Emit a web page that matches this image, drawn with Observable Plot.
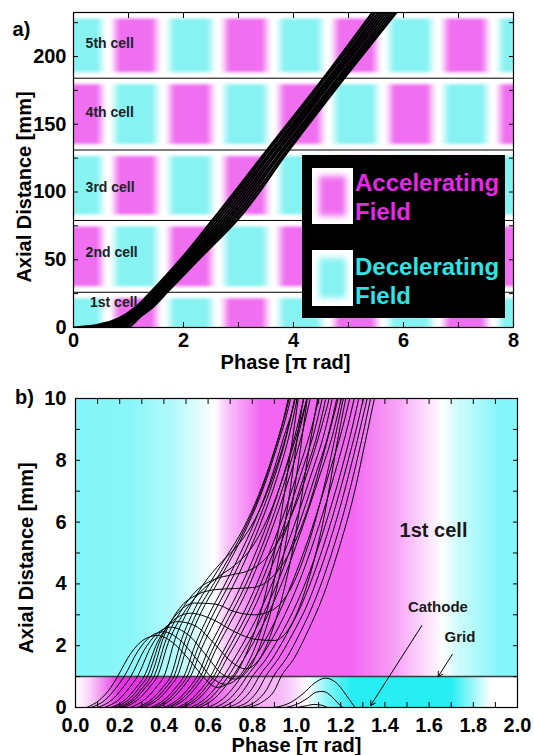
<!DOCTYPE html>
<html><head><meta charset="utf-8">
<script src="https://cdn.jsdelivr.net/npm/d3@7"></script>
<script src="https://cdn.jsdelivr.net/npm/@observablehq/plot@0.6"></script>
<style>
body{margin:0;background:#fff;font-family:"Liberation Sans",Arial,Helvetica,sans-serif;}
#wrap{position:relative;width:534px;height:755px;overflow:hidden;}
#wrap svg{display:block;}
#pa,#pb{position:absolute;left:0;}
#pa{top:0;} #pb{top:372px;}
#legend{position:absolute;left:302px;top:155px;width:203px;height:163px;background:#000;}
.sw{position:absolute;left:10px;width:41px;height:56px;background:#fff;overflow:hidden;}
.sw div{position:absolute;left:7px;top:8px;right:7px;bottom:8px;filter:blur(3px);}
.lt{position:absolute;left:53px;font-weight:bold;font-size:24px;line-height:29px;white-space:nowrap;}
</style></head><body>
<div id="wrap"><div id="pa"></div><div id="pb"></div>
<div id="legend">
 <div class="sw" style="top:13px"><div style="background:#f06ef0"></div></div>
 <div class="lt" style="top:13px;color:#e628e6">Accelerating<br>Field</div>
 <div class="sw" style="top:95px"><div style="background:#86f2f2"></div></div>
 <div class="lt" style="top:97px;color:#2ee3e3">Decelerating<br>Field</div>
</div>
</div>
<script>
const FONT = "'Liberation Sans', Arial, Helvetica, sans-serif";

// ---------- panel a data ----------
const aXTicks = [0,1,2,3,4,5,6,7,8];
const aXLabels = [0,2,4,6,8];
const aYTicks = [0,25,50,75,100,125,150,175,200,225];
const aYLabels = [0,50,100,150,200];
const aYMax = 232.5;
const cellBounds = [0, 26, 79, 131, 184, 232.5];
const cellLabels = ["1st cell","2nd cell","3rd cell","4th cell","5th cell"];
const cellLabelX = [0.3, 0.22, 0.22, 0.22, 0.22];
const cellLabelY = [18.5, 55, 103, 158.7, 209.6];
const cellFirstField = [-1, 1, -1, 1, -1]; // -1 decelerating, +1 accelerating near phase 0.13
const blockCentre0 = 0.13;
// trajectory bundle: phase at shared axial positions
const aZ = [0, 1, 3, 7.4, 15, 26, 50, 79, 130, 187, 234];
const aLine1  = [0.00, 0.30, 0.55, 0.85, 1.13, 1.40, 1.94, 2.52, 3.50, 4.60, 5.46];
const aLine2  = [0.11, 0.38, 0.61, 0.89, 1.16, 1.43, 1.98, 2.57, 3.54, 4.64, 5.51];
const aLine3  = [0.22, 0.46, 0.67, 0.93, 1.20, 1.47, 2.02, 2.62, 3.59, 4.69, 5.56];
const aLine4  = [0.33, 0.54, 0.73, 0.97, 1.23, 1.50, 2.06, 2.67, 3.63, 4.73, 5.61];
const aLine5  = [0.44, 0.62, 0.79, 1.01, 1.27, 1.54, 2.10, 2.72, 3.68, 4.77, 5.66];
const aLine6  = [0.55, 0.70, 0.85, 1.05, 1.30, 1.57, 2.13, 2.77, 3.72, 4.81, 5.71];
const aLine7  = [0.66, 0.79, 0.91, 1.09, 1.34, 1.60, 2.17, 2.82, 3.77, 4.86, 5.76];
const aLine8  = [0.77, 0.87, 0.97, 1.13, 1.37, 1.64, 2.20, 2.87, 3.81, 4.90, 5.81];
const aLine9  = [0.88, 0.95, 1.03, 1.16, 1.41, 1.67, 2.24, 2.92, 3.86, 4.94, 5.86];
const aLine10 = [0.98, 1.03, 1.09, 1.20, 1.44, 1.70, 2.27, 2.97, 3.90, 4.98, 5.90];
const aLines = [aLine1,aLine2,aLine3,aLine4,aLine5,aLine6,aLine7,aLine8,aLine9,aLine10];

// ---------- panel b data ----------
const bXTicks = [0,0.1,0.2,0.3,0.4,0.5,0.6,0.7,0.8,0.9,1.0,1.1,1.2,1.3,1.4,1.5,1.6,1.7,1.8,1.9,2.0];
const bXLabels = [0,0.2,0.4,0.6,0.8,1.0,1.2,1.4,1.6,1.8,2.0];
const bYTicks = [0,1,2,3,4,5,6,7,8,9,10];
const bYLabels = [0,2,4,6,8,10];
const gridZ = 1;
// field colour stops (phase, signed strength: +1 accelerating, -1 decelerating)
const upperStops = [[0,-1],[0.25,-0.95],[0.45,-0.6],[0.63,0],[0.68,0.35],[0.84,1],[1.25,1],[1.45,0.6],[1.66,0],[1.72,-0.35],[1.92,-1],[2,-1]];
const lowerStops = [[0,0],[0.06,0.2],[0.2,1],[0.55,1],[0.7,0.55],[0.95,0.3],[1.05,0],[1.15,-0.6],[1.25,-1],[1.7,-1],[1.88,0],[2,0]];
// electron trajectories [phase, axial mm]
const bTraj = [
 [[0.05,0],[0.11,0.25],[0.16,0.65],[0.19,1.0],[0.25,1.75],[0.31,2.2],[0.37,2.33],[0.44,2.1],[0.52,1.5],[0.59,0.9],[0.64,0.65],[0.70,0.85],[0.77,1.7],[0.85,3.4],[0.92,5.8],[0.98,8.6],[1.02,10.6]],
 [[0.07,0],[0.135,0.25],[0.185,0.65],[0.22,1.0],[0.28,1.8],[0.34,2.3],[0.40,2.45],[0.47,2.2],[0.55,1.55],[0.62,0.95],[0.68,0.75],[0.74,1.0],[0.81,1.9],[0.89,3.8],[0.96,6.5],[1.02,9.5],[1.05,10.6]],
 [[0.10,0],[0.165,0.25],[0.215,0.65],[0.25,1.0],[0.31,1.85],[0.37,2.4],[0.43,2.6],[0.51,2.35],[0.59,1.7],[0.66,1.1],[0.72,0.92],[0.78,1.2],[0.85,2.3],[0.93,4.5],[1.00,7.5],[1.06,10.6]],
 [[0.13,0],[0.195,0.25],[0.245,0.65],[0.28,1.0],[0.34,1.95],[0.40,2.55],[0.46,2.78],[0.54,2.65],[0.63,2.05],[0.71,1.45],[0.77,1.25],[0.83,1.55],[0.90,2.7],[0.98,5.0],[1.06,8.5],[1.11,10.6]],
 [[0.16,0],[0.225,0.25],[0.275,0.65],[0.31,1.0],[0.37,2.1],[0.44,2.8],[0.52,3.05],[0.62,2.85],[0.72,2.45],[0.82,2.2],[0.90,2.17],[0.97,2.6],[1.04,3.8],[1.12,6.0],[1.19,8.8],[1.24,10.6]],
 [[0.175,0],[0.24,0.25],[0.29,0.65],[0.325,1.0],[0.385,2.2],[0.455,3.0],[0.54,3.38],[0.63,3.35],[0.72,3.1],[0.81,3.0],[0.89,3.15],[0.97,3.8],[1.05,5.2],[1.13,7.3],[1.20,9.6],[1.23,10.6]],
 [[0.19,0],[0.255,0.25],[0.305,0.65],[0.34,1.0],[0.40,2.3],[0.47,3.2],[0.55,3.65],[0.64,3.82],[0.72,3.85],[0.80,3.88],[0.88,4.15],[0.96,4.9],[1.05,6.4],[1.13,8.4],[1.21,10.6]],
 [[0.205,0],[0.27,0.27],[0.32,0.68],[0.355,1.0],[0.41,2.2],[0.475,3.1],[0.55,3.8],[0.63,4.15],[0.71,4.3],[0.79,4.45],[0.87,4.9],[0.95,5.8],[1.03,7.2],[1.11,9.0],[1.17,10.6]],
 [[0.22,0],[0.29,0.3],[0.34,0.7],[0.37,1.0],[0.42,2.1],[0.48,2.95],[0.56,3.7],[0.64,4.2],[0.72,4.6],[0.80,5.2],[0.88,6.3],[0.96,7.9],[1.04,9.8],[1.07,10.6]],
 [[0.25,0],[0.32,0.3],[0.37,0.7],[0.40,1.0],[0.45,2.2],[0.51,3.15],[0.58,4.0],[0.66,4.7],[0.74,5.3],[0.82,6.2],[0.89,7.4],[0.96,9.0],[1.01,10.6]],
 [[0.28,0],[0.35,0.3],[0.40,0.7],[0.43,1.0],[0.48,2.2],[0.54,3.2],[0.61,4.05],[0.68,4.85],[0.76,5.8],[0.83,6.9],[0.89,8.1],[0.95,9.6],[0.98,10.6]],
 [[0.295,0],[0.365,0.3],[0.415,0.7],[0.445,1.0],[0.495,2.15],[0.555,3.15],[0.625,4.0],[0.695,4.85],[0.77,5.85],[0.84,7.0],[0.90,8.3],[0.96,9.8],[0.985,10.6]],
 [[0.31,0],[0.38,0.3],[0.43,0.7],[0.46,1.0],[0.51,2.1],[0.57,3.1],[0.64,4.0],[0.71,4.9],[0.78,5.9],[0.85,7.1],[0.91,8.4],[0.97,9.9],[0.99,10.6]],
 [[0.34,0],[0.41,0.3],[0.46,0.7],[0.49,1.0],[0.54,2.0],[0.60,2.95],[0.67,3.9],[0.74,4.9],[0.81,6.0],[0.88,7.3],[0.94,8.7],[1.00,10.2],[1.01,10.6]],
 [[0.355,0],[0.425,0.3],[0.475,0.7],[0.505,1.0],[0.555,1.95],[0.615,2.9],[0.685,3.85],[0.755,4.85],[0.825,6.0],[0.895,7.35],[0.955,8.8],[1.01,10.6]],
 [[0.37,0],[0.44,0.3],[0.49,0.7],[0.52,1.0],[0.57,1.9],[0.63,2.8],[0.70,3.75],[0.77,4.8],[0.84,6.0],[0.91,7.4],[0.97,8.9],[1.02,10.6]],
 [[0.40,0],[0.47,0.3],[0.52,0.7],[0.55,1.0],[0.60,1.85],[0.66,2.7],[0.73,3.65],[0.80,4.75],[0.87,6.0],[0.94,7.5],[1.00,9.0],[1.05,10.6]],
 [[0.415,0],[0.485,0.3],[0.535,0.7],[0.565,1.0],[0.615,1.8],[0.675,2.65],[0.745,3.6],[0.815,4.7],[0.885,6.0],[0.955,7.5],[1.015,9.0],[1.065,10.6]],
 [[0.43,0],[0.50,0.3],[0.55,0.7],[0.58,1.0],[0.63,1.8],[0.69,2.6],[0.76,3.55],[0.83,4.7],[0.90,6.0],[0.97,7.5],[1.03,9.0],[1.08,10.6]],
 [[0.46,0],[0.53,0.3],[0.58,0.7],[0.61,1.0],[0.66,1.7],[0.72,2.5],[0.79,3.5],[0.86,4.7],[0.93,6.0],[1.00,7.5],[1.07,9.1],[1.12,10.6]],
 [[0.475,0],[0.545,0.3],[0.595,0.7],[0.625,1.0],[0.675,1.68],[0.735,2.45],[0.805,3.45],[0.875,4.65],[0.945,5.95],[1.015,7.45],[1.085,9.05],[1.135,10.6]],
 [[0.49,0],[0.56,0.3],[0.61,0.7],[0.64,1.0],[0.69,1.65],[0.75,2.4],[0.82,3.4],[0.89,4.6],[0.96,5.9],[1.03,7.4],[1.10,9.0],[1.15,10.6]],
 [[0.52,0],[0.59,0.3],[0.64,0.7],[0.67,1.0],[0.72,1.6],[0.78,2.35],[0.85,3.35],[0.92,4.55],[0.99,5.9],[1.06,7.4],[1.13,9.0],[1.18,10.6]],
 [[0.54,0],[0.61,0.3],[0.66,0.7],[0.69,1.0],[0.74,1.58],[0.80,2.33],[0.87,3.33],[0.94,4.5],[1.01,5.9],[1.08,7.4],[1.15,9.0],[1.20,10.6]],
 [[0.56,0],[0.63,0.3],[0.68,0.7],[0.71,1.0],[0.76,1.55],[0.82,2.3],[0.89,3.3],[0.96,4.5],[1.03,5.9],[1.10,7.4],[1.17,9.0],[1.22,10.6]],
 [[0.60,0],[0.67,0.3],[0.72,0.7],[0.75,1.0],[0.80,1.5],[0.86,2.2],[0.93,3.2],[1.00,4.4],[1.07,5.8],[1.14,7.4],[1.21,9.1],[1.26,10.6]],
 [[0.63,0],[0.70,0.3],[0.745,0.68],[0.775,1.0],[0.83,1.52],[0.89,2.22],[0.96,3.2],[1.03,4.4],[1.10,5.85],[1.17,7.5],[1.235,9.2],[1.28,10.6]],
 [[0.66,0],[0.73,0.3],[0.77,0.65],[0.80,1.0],[0.86,1.55],[0.92,2.25],[0.99,3.2],[1.06,4.4],[1.13,5.9],[1.20,7.6],[1.26,9.3],[1.30,10.6]],
 [[0.69,0],[0.76,0.28],[0.80,0.62],[0.83,1.0],[0.89,1.57],[0.95,2.3],[1.02,3.28],[1.09,4.55],[1.16,6.1],[1.23,7.9],[1.29,9.6],[1.32,10.6]],
 [[0.72,0],[0.79,0.25],[0.83,0.6],[0.86,1.0],[0.92,1.6],[0.98,2.35],[1.05,3.35],[1.12,4.7],[1.19,6.3],[1.26,8.2],[1.32,10.0],[1.34,10.6]],
 [[0.75,0],[0.82,0.22],[0.865,0.58],[0.895,1.0],[0.955,1.6],[1.015,2.4],[1.085,3.5],[1.155,4.9],[1.225,6.6],[1.29,8.5],[1.345,10.3],[1.355,10.6]],
 [[0.78,0],[0.85,0.2],[0.90,0.55],[0.93,1.0],[0.99,1.6],[1.05,2.45],[1.12,3.6],[1.19,5.1],[1.26,6.9],[1.32,8.9],[1.37,10.6]],
 [[0.90,0],[0.97,0.15],[1.03,0.45],[1.08,0.78],[1.13,0.95],[1.18,0.8],[1.22,0.45],[1.25,0.15],[1.265,0]],
 [[0.95,0],[1.00,0.1],[1.05,0.3],[1.09,0.5],[1.12,0.52],[1.16,0.35],[1.19,0.12],[1.21,0]],
 [[1.00,0],[1.04,0.05],[1.08,0.1],[1.11,0.08],[1.14,0]]
];
const bNotes = [
  {text: "1st cell", x: 1.62, y: 5.73, size: 20},
  {text: "Cathode", x: 1.64, y: 3.24, size: 15},
  {text: "Grid", x: 1.74, y: 2.27, size: 15}
];
const bArrows = [
  {x1: 1.567, y1: 2.65, x2: 1.335, y2: 0.06},
  {x1: 1.705, y1: 1.72, x2: 1.641, y2: 1.0}
];

// ---------- colours ----------
const magA = "#f06ef0", cyanA = "#86f2f2";
const magB = "#f266f2", cyanB = "#84f6f9";
const magBlow = "#e634e6", cyanBlow = "#26eef2";
const iMagA = d3.interpolateRgb("white", magA), iCyanA = d3.interpolateRgb("white", cyanA);
const iMagB = d3.interpolateRgb("white", magB), iCyanB = d3.interpolateRgb("white", cyanB);
const iMagBl = d3.interpolateRgb("white", magBlow), iCyanBl = d3.interpolateRgb("white", cyanBlow);

const clamp01 = t => Math.max(0, Math.min(1, t));
const smooth = t => { t = clamp01(t); return t * t * (3 - 2 * t); };

function fieldA(x, y) {
  let c = d3.bisectRight(cellBounds, y) - 1;
  c = Math.max(0, Math.min(cellBounds.length - 2, c));
  const lo = cellBounds[c], hi = cellBounds[c + 1];
  const wb = c === 0 ? 1 : smooth((y - lo - 2.2) / 4.5);
  const wt = smooth((hi - 2.2 - y) / 4.5);
  const u = x - blockCentre0;
  const k = Math.round(u);
  const d = Math.abs(u - k);
  const wh = smooth((0.5 - d) / 0.25);
  const sign = cellFirstField[c] * (Math.abs(k) % 2 === 0 ? 1 : -1);
  const v = wh * wb * wt;
  return sign > 0 ? iMagA(v) : iCyanA(v);
}
function stopValue(stops, x) {
  for (let i = 1; i < stops.length; i++) {
    if (x <= stops[i][0]) {
      const [x0, v0] = stops[i - 1], [x1, v1] = stops[i];
      return v0 + (v1 - v0) * (x - x0) / (x1 - x0);
    }
  }
  return stops[stops.length - 1][1];
}
function fieldB(x, y) {
  if (y >= gridZ) {
    const v = stopValue(upperStops, x);
    return v >= 0 ? iMagB(v) : iCyanB(-v);
  }
  const v = stopValue(lowerStops, x);
  return v >= 0 ? iMagBl(v) : iCyanBl(-v);
}

const aRows = aLines.flatMap((ph, id) => ph.map((p, j) => ({x: p, y: aZ[j], id})));
const bRows = bTraj.flatMap((pts, id) => pts.map(([x, y]) => ({x, y, id})));

const axisStyle = {fontSize: 20, fontWeight: "bold", fontFamily: FONT};
const labelStyle = {...axisStyle, textAnchor: "middle", lineAnchor: "middle"};

const plotA = Plot.plot({
  width: 534, height: 372,
  marginTop: 12, marginBottom: 45, marginLeft: 73, marginRight: 21,
  x: {domain: [0, 8]},
  y: {domain: [0, aYMax]},
  color: {type: "identity"},
  style: {fontFamily: FONT, fontWeight: "bold", fontSize: "20px", color: "black", background: "transparent", overflow: "visible"},
  marks: [
    Plot.raster({x1: 0, x2: 8, y1: 0, y2: aYMax, fill: fieldA, pixelSize: 1}),
    Plot.ruleY(cellBounds.slice(1, -1), {stroke: "black", strokeWidth: 1}),
    Plot.line(aRows, {x: "x", y: "y", z: "id", curve: "monotone-y", stroke: "black", strokeWidth: 2.2, clip: true}),
    Plot.text(cellLabels, {x: cellLabelX, y: cellLabelY, text: d => d, textAnchor: "start", fontSize: 14, fontWeight: "bold", fill: "#222"}),
    Plot.frame({stroke: "black", strokeWidth: 1.2}),
    Plot.axisX({anchor: "bottom", ticks: aXTicks, tickSize: -5, tickFormat: () => "", label: null}),
    Plot.axisX({anchor: "top", ticks: aXTicks, tickSize: -5, tickFormat: () => "", label: null}),
    Plot.axisY({anchor: "left", ticks: aYTicks, tickSize: -5, tickFormat: () => "", label: null}),
    Plot.axisY({anchor: "right", ticks: aYTicks, tickSize: -5, tickFormat: () => "", label: null}),
    Plot.axisX({anchor: "bottom", ticks: aXLabels, tickSize: 0, tickPadding: 5, tickFormat: d => String(d), label: null, ...axisStyle}),
    Plot.axisY({anchor: "left", ticks: aYLabels, tickSize: 0, tickPadding: 7, tickFormat: d => String(d), label: null, ...axisStyle}),
    Plot.text(["Phase [π rad]"], {frameAnchor: "bottom", text: d => d, dx: -8, dy: 35, ...labelStyle}),
    Plot.text(["Axial Distance [mm]"], {frameAnchor: "left", text: d => d, rotate: -90, dx: -49, dy: 17, ...labelStyle}),
    Plot.text(["a)"], {frameAnchor: "top-left", text: d => d, dx: -52, dy: 17, ...labelStyle})
  ]
});

const plotB = Plot.plot({
  width: 534, height: 383,
  marginTop: 26, marginBottom: 48, marginLeft: 75, marginRight: 17,
  x: {domain: [0, 2]},
  y: {domain: [0, 10]},
  color: {type: "identity"},
  style: {fontFamily: FONT, fontWeight: "bold", fontSize: "20px", color: "black", background: "transparent", overflow: "visible"},
  marks: [
    Plot.raster({x1: 0, x2: 2, y1: 0, y2: 10, fill: fieldB, pixelSize: 1}),
    Plot.ruleY([gridZ], {stroke: "#3a3a3a", strokeWidth: 1.5}),
    Plot.line(bRows, {x: "x", y: "y", z: "id", curve: "monotone-x", stroke: "black", strokeWidth: 1, clip: true}),
    Plot.text(bNotes, {x: "x", y: "y", text: "text", fontSize: "size", fontWeight: "bold", fill: "#1a1a1a"}),
    Plot.arrow(bArrows, {x1: "x1", y1: "y1", x2: "x2", y2: "y2", stroke: "black", strokeWidth: 1, headLength: 8}),
    Plot.frame({stroke: "black", strokeWidth: 1.2}),
    Plot.axisX({anchor: "bottom", ticks: bXTicks, tickSize: -5, tickFormat: () => "", label: null}),
    Plot.axisX({anchor: "top", ticks: bXTicks, tickSize: -5, tickFormat: () => "", label: null}),
    Plot.axisY({anchor: "left", ticks: bYTicks, tickSize: -5, tickFormat: () => "", label: null}),
    Plot.axisY({anchor: "right", ticks: bYTicks, tickSize: -5, tickFormat: () => "", label: null}),
    Plot.axisX({anchor: "bottom", ticks: bXLabels, tickSize: 0, tickPadding: 10, tickFormat: d => d.toFixed(1), label: null, ...axisStyle}),
    Plot.axisY({anchor: "left", ticks: bYLabels, tickSize: 0, tickPadding: 9, tickFormat: d => String(d), label: null, ...axisStyle}),
    Plot.text(["Phase [π rad]"], {frameAnchor: "bottom", text: d => d, dy: 38, ...labelStyle}),
    Plot.text(["Axial Distance [mm]"], {frameAnchor: "left", text: d => d, rotate: -90, dx: -49, dy: 5, ...labelStyle}),
    Plot.text(["b)"], {frameAnchor: "top-left", text: d => d, dx: -51, dy: -1, ...labelStyle})
  ]
});

document.getElementById("pa").appendChild(plotA);
document.getElementById("pb").appendChild(plotB);
</script>
</body></html>
